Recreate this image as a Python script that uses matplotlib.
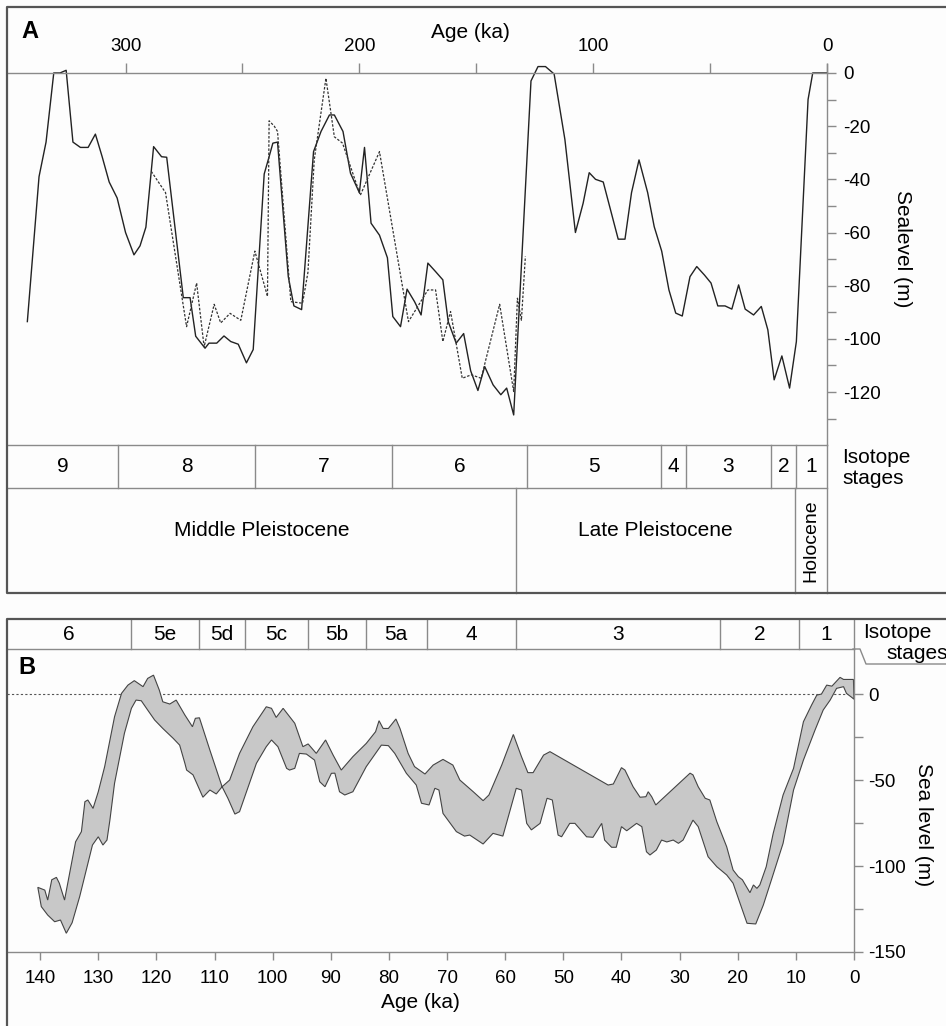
import matplotlib
matplotlib.use('Agg')
import matplotlib.pyplot as plt
from matplotlib.lines import Line2D
import numpy as np

plt.rcParams['font.family'] = ['Liberation Sans', 'DejaVu Sans']
plt.rcParams['axes.unicode_minus'] = False

# panel A: sea level curves over the last ~350 ka
ka_a = [342, 337, 334, 330.7, 328, 325.4, 322.5, 319.3, 316, 312.9,
        310, 307, 303.6, 300, 296.4, 293.8, 291.3, 288, 284.6, 282.4,
        275.3, 272.4, 270, 266, 264.3, 261, 257.9, 255, 251.8, 248.3,
        245.4, 240.7, 238.6, 237, 235, 230.4, 228, 224.7, 219.6, 216.4,
        212.8, 210.7, 207, 203.8, 200, 197.8, 195, 191.4, 188, 185.7,
        182.4, 179.6, 176.4, 173.6, 170.7, 167.4, 164.3, 162, 158.6, 155.4,
        152.4, 149.3, 146.4, 142.8, 139.5, 137, 134, 126.6, 123.6, 120.4,
        116.7, 112.1, 107.6, 104.3, 101.7, 99, 95.7, 89.3, 86.4, 83.6,
        80.4, 76.7, 73.9, 70.7, 67.6, 64.7, 61.9, 58.6, 55.7, 52.4,
        49.6, 46.7, 43.6, 40.7, 37.8, 35, 31.4, 28.1, 25.3, 22.6,
        19.3, 16, 13.1, 8.1, 6.1, 0]
sl_a = [-93.5, -39, -26, 0, 0, 1, -26, -28, -28, -23,
        -31.5, -41, -47, -60, -68.4, -65, -58, -27.7, -31.5, -31.7,
        -84.5, -84.5, -99, -103.5, -101.6, -101.6, -98.9, -101, -102, -109,
        -104, -38, -31.5, -26.4, -26, -76.6, -87.6, -89, -29.6, -22,
        -15.8, -15.8, -22, -37.7, -45, -28, -56.5, -61, -69.5, -91.6,
        -95.4, -81.3, -86, -91, -71.5, -74.7, -77.8, -93.5, -101.6, -98,
        -112, -119.4, -110.4, -117.3, -121, -118.5, -128.6, -3, 2.4, 2.4,
        -0.4, -25, -60, -49, -37.5, -40, -41, -62.5, -62.5, -45,
        -32.7, -45, -57.8, -67, -81.6, -90.3, -91.4, -76.6, -72.8, -76,
        -79, -87.6, -87.6, -88.8, -79.7, -88.8, -91, -87.8, -96.6, -115.4,
        -106.4, -118.5, -101, -10, 0, 0]

ka_d = [289, 282.9, 273.9, 269.6, 266.4, 262.1, 259.3, 255.3, 250.7, 244.7,
        239.3, 238.6, 236.4, 235, 229.3, 224.3, 222, 219.3, 214.3, 210.7,
        207.2, 199.6, 191.4, 179, 170.7, 167.4, 164.3, 161, 156, 152.1,
        147.9, 140, 134, 132.4, 130.7, 129]
sl_d = [-37, -45, -95.4, -79, -103, -87, -94, -90.4, -93, -67,
        -84, -18, -20, -22, -86, -86.6, -75, -32.7, -2, -24,
        -26.4, -46, -29.6, -93.5, -81.6, -81.6, -101, -89.7, -114.8, -113.5,
        -114.8, -87, -119.8, -84.7, -93, -69]

stages_a = ['9', '8', '7', '6', '5', '4', '3', '2', '1']
stage_bounds_a = [303.2, 244.7, 186, 128.3, 71, 60.3, 24, 13.3]
epochs = ['Middle Pleistocene', 'Late Pleistocene', 'Holocene']
epoch_bounds = [133, 13.5]

# panel B: sea level envelope over the last 140 ka
ub_ka = [140.4, 139.2, 138.7, 138, 137.2, 136.7, 135.8, 133.9, 132.9, 132.3,
         131.8, 130.9, 130, 128.9, 127.2, 126, 124.9, 123.8, 122.3, 121.5,
         120.5, 119.5, 118.9, 117.7, 116.6, 115.1, 113.8, 113.3, 112.6, 110.8,
         108.7, 107.4, 105.7, 103.4, 101.1, 100.2, 99.4, 98.2, 96.2, 94.8,
         93.9, 92.5, 90.9, 89.6, 88.2, 86.2, 83.9, 82.3, 81.7, 81,
         80.1, 78.8, 78.1, 76.7, 75.6, 73.8, 72.4, 70.7, 69, 67.8,
         65.5, 63.8, 62.8, 60.6, 58.6, 57.2, 56.1, 55.2, 53.4, 52.3,
         42.3, 41.4, 40, 39.4, 38, 36.8, 35.8, 35.4, 34.8, 34.1,
         28.2, 27.7, 26.8, 25.6, 24.8, 23.6, 21.9, 20.8, 19.9, 19.2,
         17.9, 17.3, 16.7, 16.2, 15.1, 13.9, 12.2, 10.4, 8.7, 7.3,
         6.4, 5.6, 4.7, 3.8, 2.4, 1.8, 0.1]
ub_m = [-112.4, -114, -119.8, -108, -106.6, -110, -119.8, -85.9, -80, -62.6,
        -61.6, -66.5, -56.8, -42.2, -13.2, 0.4, 5.2, 7.8, 4.3, 9.1,
        11, 2.3, -4.5, -5.8, -3.5, -12.2, -19, -14.1, -13.8, -32.6,
        -53.9, -50, -34.5, -19, -7.4, -8.3, -13.6, -8.3, -17, -30.6,
        -29, -34.5, -26.7, -35.5, -44.2, -36.4, -28.7, -21.9, -15.5, -20,
        -20, -14.5, -20, -34.5, -42.2, -46.5, -41.3, -38, -41.3, -50,
        -56.8, -62, -58.7, -41.3, -23.5, -36.4, -45.7, -45.7, -35.5, -33.5,
        -52.9, -52.3, -42.8, -44.2, -53.9, -60, -59.7, -56.8, -59.7, -64.5,
        -46, -47, -53.9, -60.6, -61.6, -74.2, -88.8, -102.3, -106.2, -108,
        -115.5, -111, -113, -111, -100.4, -81, -58.7, -43.2, -16.1, -6.4,
        -0.6, 0, 5.2, 4.6, 9.7, 8.5, 8.5]
lb_ka = [140.4, 139.8, 138.7, 137.5, 136.5, 135.5, 134.5, 133.2, 131, 130,
         129.2, 128.5, 128, 127.2, 125.5, 124.3, 123.5, 122.6, 121.5, 120.3,
         118.9, 117.1, 116, 115.1, 114.8, 113.7, 112, 110.8, 109.7, 108.7,
         107.7, 106.5, 105.7, 102.8, 101.1, 100.2, 99.1, 97.6, 97.1, 96.2,
         95.4, 94.2, 92.8, 91.9, 91, 89.9, 89.3, 88.5, 87.6, 86.2,
         83.9, 81.3, 80.1, 79, 77, 75.3, 74.4, 73.1, 72.1, 71.4,
         70.7, 68.4, 67, 66.1, 63.8, 62.1, 60.4, 58.1, 57.2, 56.3,
         55.5, 54, 52.8, 51.9, 50.9, 50.3, 48.9, 48, 46, 44.9,
         43.4, 42.9, 41.7, 40.9, 40, 39.1, 37.4, 36.5, 35.7, 35.1,
         34, 33.1, 32.2, 31.1, 30.2, 29.4, 27.7, 26.8, 25.1, 23.6,
         21.9, 20.8, 19.6, 18.4, 16.9, 15.6, 14.2, 12.2, 10.4, 8.7,
         6.7, 5.3, 4.1, 3, 1.8, 1.3, 0.4, 0]
lb_m = [-112.4, -123.6, -128.5, -132.4, -131.4, -139.1, -133, -117.8, -87.8, -83,
        -87.8, -84.9, -73.3, -51.9, -22.8, -8.3, -3.5, -3.9, -9.3, -15.1,
        -20, -25.8, -29.7, -40.3, -44.2, -47, -60, -55.8, -58.1, -53.9,
        -60.6, -69.8, -68.4, -40.3, -30.6, -26.7, -30.6, -43.2, -44.2, -43.2,
        -34.5, -34.9, -38.4, -51, -53.9, -46.1, -46, -56.8, -58.7, -56.8,
        -42.2, -29.7, -30, -34.5, -46.1, -52.9, -63.5, -64.5, -54.8, -55.8,
        -69.4, -80, -82.6, -82, -87.2, -81, -82.6, -54.8, -55.8, -75.2,
        -79, -75.2, -60.6, -61.6, -82, -83, -75.2, -75.2, -83, -83.3,
        -75.2, -84.9, -89.1, -89.1, -77.1, -79.5, -75.2, -77.1, -91.7, -93.6,
        -90.7, -84.9, -86, -84.9, -86.8, -84.9, -73.3, -77.1, -94.6, -100.4,
        -105.2, -110, -121.7, -133.3, -133.7, -122.7, -108, -86.8, -55.8, -38.4,
        -20.9, -9.3, -3.5, 3.3, 4.3, 0.4, -1.9, -3]

stages_b = ['6', '5e', '5d', '5c', '5b', '5a', '4', '3', '2', '1']
stage_bounds_b = [124.4, 112.7, 104.8, 94, 84, 73.5, 58.2, 23, 9.5]

W, H = 946, 1026
fig = plt.figure(figsize=(W / 100, H / 100), dpi=100, facecolor='#fdfdfd')

def rect(x0, y0, x1, y1):
    return [x0 / W, 1 - y1 / H, (x1 - x0) / W, (y1 - y0) / H]

def fline(xs, ys, **kw):
    fig.add_artist(Line2D([x / W for x in xs], [1 - y / H for y in ys],
                          transform=fig.transFigure, **kw))

def ftext(x, y, s, **kw):
    fig.text(x / W, 1 - y / H, s, **kw)

grey = '#8a8a8a'
frame = dict(color='#555555', lw=1.6)
thin = dict(color=grey, lw=1.0, clip_on=False)
fs = 13.5

# ---------- panel A ----------
xa = (350.7, 0)
axA = fig.add_axes(rect(7, 7, 827, 445))
axA.patch.set_alpha(0)
axA.set_xlim(*xa)
axA.set_ylim(-139.9, 24.8)
axA.plot(ka_a, sl_a, color='#222222', lw=1.0)
axA.plot(ka_d, sl_d, color='#333333', lw=0.9, ls=(0, (2, 1.3)))
axA.spines['left'].set_visible(False)
axA.spines['bottom'].set_visible(False)
axA.spines['top'].set_position(('data', 0))
axA.spines['right'].set_bounds(-139.9, 3.5)
for s in ['top', 'right']:
    axA.spines[s].set_color(grey)
    axA.spines[s].set_linewidth(1.0)
axA.xaxis.set_ticks_position('top')
axA.set_xticks([300, 200, 100, 0])
axA.set_xticks([250, 150, 50], minor=True)
axA.yaxis.tick_right()
axA.set_yticks(np.arange(0, -121, -20))
axA.set_yticks(np.arange(-10, -131, -20), minor=True)
axA.tick_params(axis='x', which='both', direction='out', length=7, width=1,
                color=grey, pad=6, labelsize=fs)
axA.tick_params(axis='y', which='both', direction='out', length=6.5, width=1,
                color=grey, pad=5, labelsize=fs)

ftext(470, 33, 'Age (ka)', ha='center', va='center', fontsize=15)
ftext(902, 249, 'Sealevel (m)', rotation=270, ha='center', va='center', fontsize=15)
ftext(30, 32, 'A', weight='bold', fontsize=17, ha='center', va='center')

# stage / epoch boxes under panel A
axSA = fig.add_axes(rect(7, 445, 827, 593))
axSA.set_xlim(*xa)
axSA.set_ylim(0, 1)
axSA.axis('off')
split = 105 / 148
axSA.plot(xa, [1, 1], **thin)
axSA.plot(xa, [split, split], **thin)
for b in stage_bounds_a:
    axSA.plot([b, b], [split, 1], **thin)
for b in epoch_bounds:
    axSA.plot([b, b], [0, split], **thin)
axSA.plot([0, 0], [0, 1], **thin)
edges = [xa[0]] + stage_bounds_a + [0]
for i, lab in enumerate(stages_a):
    axSA.text((edges[i] + edges[i + 1]) / 2, (1 + split) / 2, lab,
              ha='center', va='center', fontsize=15)
eedges = [xa[0]] + epoch_bounds + [0]
for i, lab in enumerate(epochs):
    mid = (eedges[i] + eedges[i + 1]) / 2
    if lab == 'Holocene':
        axSA.text(mid, split / 2, lab, rotation=90, ha='center', va='center', fontsize=14)
    else:
        axSA.text(mid, 0.42, lab, ha='center', va='center', fontsize=15)
ftext(842, 463, 'Isotope', ha='left', va='baseline', fontsize=15)
ftext(842, 484, 'stages', ha='left', va='baseline', fontsize=15)

# ---------- panel B ----------
xb = (145.7, 0)
axSB = fig.add_axes(rect(7, 619, 854, 649))
axSB.set_xlim(*xb)
axSB.set_ylim(0, 1)
axSB.axis('off')
axSB.plot(xb, [0, 0], **thin)
for b in stage_bounds_b:
    axSB.plot([b, b], [0, 1], **thin)
axSB.plot([0, 0], [0, 1], **thin)
bedges = [xb[0]] + stage_bounds_b + [0]
for i, lab in enumerate(stages_b):
    axSB.text((bedges[i] + bedges[i + 1]) / 2, 0.5, lab,
              ha='center', va='center', fontsize=15)

axB = fig.add_axes(rect(7, 649, 854, 952))
axB.patch.set_alpha(0)
axB.set_xlim(*xb)
axB.set_ylim(-150, 26.2)
axB.axhline(0, color='#555555', lw=0.8, ls=(0, (2, 2)), zorder=1)
axB.fill(np.concatenate([ub_ka, lb_ka[::-1]]), np.concatenate([ub_m, lb_m[::-1]]),
         facecolor='#c8c8c8', edgecolor='#444444', lw=0.8, zorder=2)
axB.spines['left'].set_visible(False)
axB.spines['top'].set_visible(False)
for s in ['bottom', 'right']:
    axB.spines[s].set_color(grey)
    axB.spines[s].set_linewidth(1.0)
axB.yaxis.tick_right()
axB.set_xticks(np.arange(140, -1, -10))
axB.set_yticks([0, -50, -100, -150])
axB.set_yticks([-25, -75, -125], minor=True)
axB.tick_params(axis='x', which='both', direction='out', length=6, width=1,
                color=grey, pad=7, labelsize=fs)
axB.tick_params(axis='y', which='both', direction='out', length=6.5, width=1,
                color=grey, pad=4, labelsize=fs)

ftext(420, 1003, 'Age (ka)', ha='center', va='center', fontsize=15)
ftext(923, 825, 'Sea level (m)', rotation=270, ha='center', va='center', fontsize=15)
ftext(27, 668, 'B', weight='bold', fontsize=17, ha='center', va='center')
ftext(863, 638, 'Isotope', ha='left', va='baseline', fontsize=15)
ftext(886, 659, 'stages', ha='left', va='baseline', fontsize=15)
fline([853, 860, 866, 946], [649, 649, 664, 664], color=grey, lw=1.0)

# outer frames
fline([946, 7, 7, 946], [7, 7, 593, 593], **frame)
fline([946, 7, 7], [619, 619, 1026], **frame)

fig.savefig('out.png', dpi=100, facecolor=fig.get_facecolor())
